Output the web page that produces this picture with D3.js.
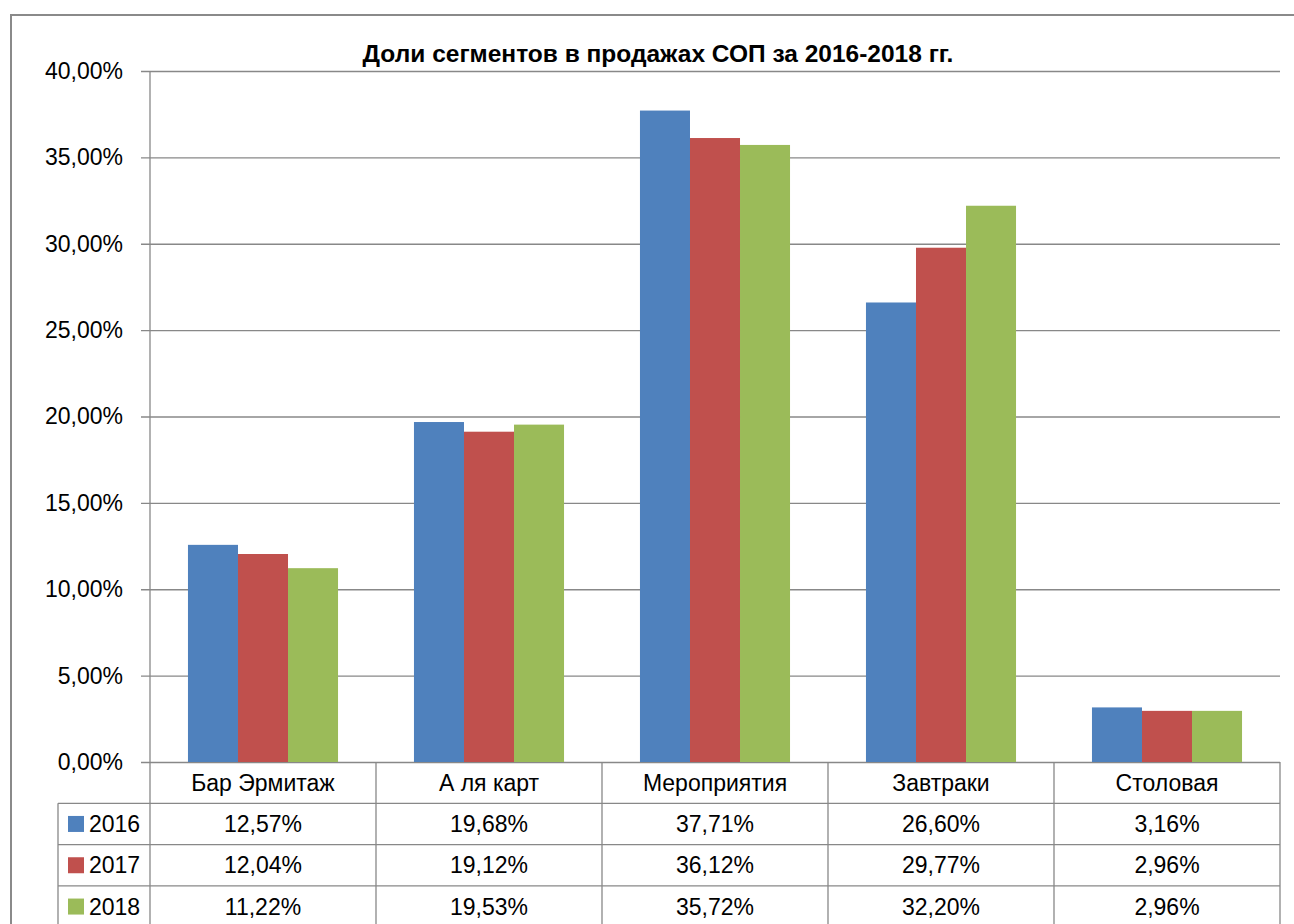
<!DOCTYPE html>
<html>
<head>
<meta charset="utf-8">
<script src="https://cdn.jsdelivr.net/npm/d3@7"></script>
<style>
  html, body { margin: 0; padding: 0; background: #fff; }
  svg { display: block; }
  text { font-family: "Liberation Sans", Arial, sans-serif; fill: #000; }
</style>
</head>
<body>
<div id="chart"></div>
<script>
const categories = ["Бар Эрмитаж", "А ля карт", "Мероприятия", "Завтраки", "Столовая"];
const years = ["2016", "2017", "2018"];
const values2016 = [12.57, 19.68, 37.71, 26.60, 3.16];
const values2017 = [12.04, 19.12, 36.12, 29.77, 2.96];
const values2018 = [11.22, 19.53, 35.72, 32.20, 2.96];
const yTicks = [0, 5, 10, 15, 20, 25, 30, 35, 40];
const colors = ["#4f81bd", "#c0504d", "#9bbb59"];
const title = "Доли сегментов в продажах СОП за 2016-2018 гг.";

const series = [values2016, values2017, values2018];
const fmt = v => v.toFixed(2).replace(".", ",") + "%";

const W = 1294, H = 924;
const plotLeft = 150, plotRight = 1280, plotTop = 71, plotBottom = 762;
const rowH = 41.3;

const svg = d3.select("#chart").append("svg")
    .attr("width", W)
    .attr("height", H);

// outer chart frame (cut by the page edge)
svg.append("path")
    .attr("d", `M11,${H} V15 H${W}`)
    .attr("fill", "none")
    .attr("stroke", "#8a8a8a")
    .attr("stroke-width", 2);

const x0 = d3.scaleBand()
    .domain(categories)
    .range([plotLeft, plotRight])
    .paddingInner(0.336)
    .paddingOuter(0.168);

const x1 = d3.scaleBand()
    .domain(years)
    .range([0, x0.bandwidth()]);

const y = d3.scaleLinear()
    .domain([0, 40])
    .range([plotBottom, plotTop]);

// gridlines + y axis
const yAxis = svg.append("g")
    .attr("transform", `translate(${plotLeft},0)`)
    .call(d3.axisLeft(y)
        .tickValues(yTicks)
        .tickSize(-(plotRight - plotLeft))
        .tickFormat(fmt)
        .tickPadding(27));

yAxis.select(".domain").remove();
yAxis.selectAll(".tick line")
    .attr("stroke", "#888")
    .attr("stroke-width", 1.3)
    .attr("x1", -9);
yAxis.selectAll(".tick text")
    .attr("font-size", 23)
    .attr("font-family", "Liberation Sans, Arial, sans-serif")
    .attr("fill", "#000");

// bars
const groups = svg.append("g")
    .selectAll("g")
    .data(categories)
    .join("g")
    .attr("transform", d => `translate(${x0(d)},0)`);

groups.selectAll("rect")
    .data((d, i) => years.map((yr, k) => ({ yr, k, v: series[k][i] })))
    .join("rect")
    .attr("x", d => x1(d.yr))
    .attr("y", d => y(d.v))
    .attr("width", x1.bandwidth())
    .attr("height", d => plotBottom - y(d.v))
    .attr("fill", d => colors[d.k]);

// axis line
svg.append("line")
    .attr("x1", plotLeft).attr("x2", plotLeft)
    .attr("y1", plotTop).attr("y2", H)
    .attr("stroke", "#888").attr("stroke-width", 1.3);

// data table
const table = svg.append("g");
const tableLeft = 58;

// vertical separators between categories
const colEdges = categories.map((c, i) => plotLeft + x0.step() * (i + 1));
table.selectAll("line.v")
    .data(colEdges)
    .join("line")
    .attr("class", "v")
    .attr("x1", d => d).attr("x2", d => d)
    .attr("y1", plotBottom).attr("y2", H)
    .attr("stroke", "#888").attr("stroke-width", 1.3);

table.append("line")
    .attr("x1", tableLeft).attr("x2", tableLeft)
    .attr("y1", plotBottom + rowH).attr("y2", H)
    .attr("stroke", "#888").attr("stroke-width", 1.3);

const rowTops = years.map((yr, k) => plotBottom + rowH * (k + 1));
table.selectAll("line.h")
    .data(rowTops)
    .join("line")
    .attr("class", "h")
    .attr("x1", tableLeft).attr("x2", plotRight)
    .attr("y1", d => d).attr("y2", d => d)
    .attr("stroke", "#888").attr("stroke-width", 1.3);

// header
table.selectAll("text.cat")
    .data(categories)
    .join("text")
    .attr("class", "cat")
    .attr("x", d => x0(d) + x0.bandwidth() / 2)
    .attr("y", plotBottom + rowH / 2)
    .attr("dy", "0.35em")
    .attr("text-anchor", "middle")
    .attr("font-size", 23)
    .text(d => d);

// rows
years.forEach((yr, k) => {
    const ty = rowTops[k] + rowH / 2;
    table.append("rect")
        .attr("x", 68).attr("y", ty - 8)
        .attr("width", 16).attr("height", 16)
        .attr("fill", colors[k]);
    table.append("text")
        .attr("x", 89).attr("y", ty)
        .attr("dy", "0.35em")
        .attr("font-size", 23)
        .text(yr);
    table.selectAll(null)
        .data(series[k])
        .join("text")
        .attr("x", (d, i) => x0(categories[i]) + x0.bandwidth() / 2)
        .attr("y", ty)
        .attr("dy", "0.35em")
        .attr("text-anchor", "middle")
        .attr("font-size", 23)
        .text(d => fmt(d));
});

// title
svg.append("text")
    .attr("x", 658)
    .attr("y", 62)
    .attr("text-anchor", "middle")
    .attr("font-size", 24.5)
    .attr("font-weight", "bold")
    .text(title);
</script>
</body>
</html>
